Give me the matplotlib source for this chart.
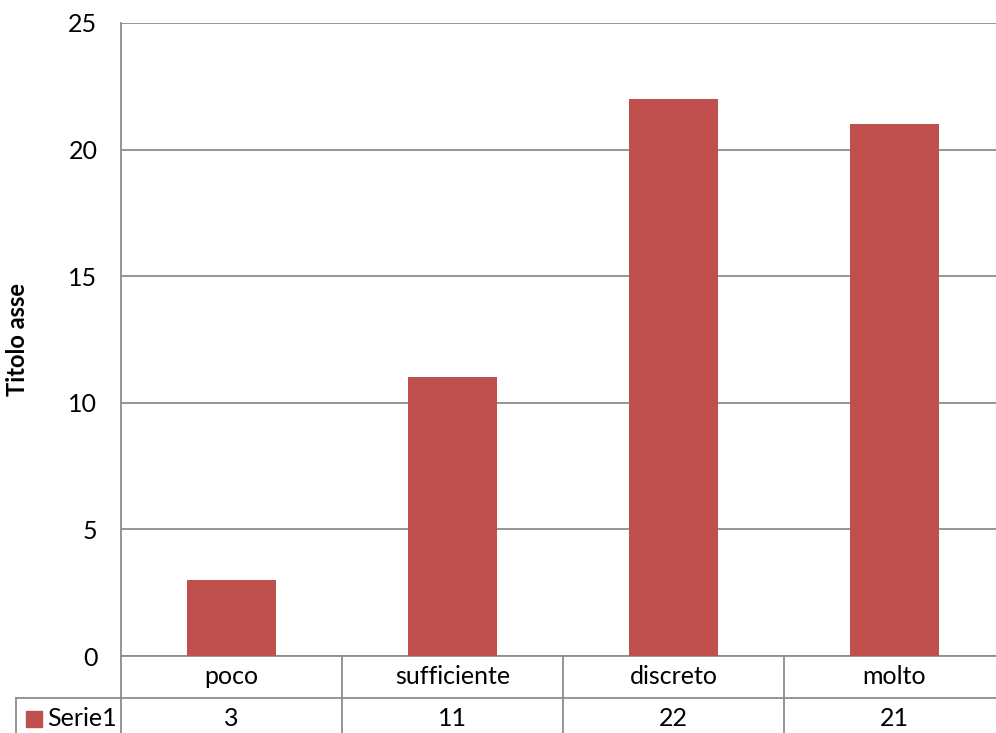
import matplotlib.pyplot as plt
from matplotlib.transforms import blended_transform_factory
from matplotlib.patches import Rectangle

categories = ["poco", "sufficiente", "discreto", "molto"]
values = [3, 11, 22, 21]
series_name = "Serie1"
y_ticks = [0, 5, 10, 15, 20, 25]

BAR_COLOR = "#C0504D"
LINE_COLOR = "#8C8C8C"
FS = 18

plt.rcParams["font.family"] = ["Lato", "DejaVu Sans"]

fig = plt.figure(figsize=(9.96, 7.33), dpi=100)
# plot area runs slightly past the right edge, as in the original
ax = fig.add_axes([121 / 996, 1 - 656 / 733, 884 / 996, 633 / 733])

x = list(range(len(categories)))
ax.bar(x, values, width=0.4, color=BAR_COLOR, zorder=3)

ax.set_xlim(-0.5, len(categories) - 0.5)
ax.set_ylim(0, 25)
ax.set_yticks(y_ticks)
ax.set_xticks([])
ax.tick_params(axis="y", length=0, pad=17, labelsize=FS)
ax.yaxis.grid(True, color=LINE_COLOR, linewidth=1.3, zorder=0)
for side in ["top", "right", "bottom"]:
    ax.spines[side].set_visible(False)
ax.spines["left"].set_color(LINE_COLOR)
ax.spines["left"].set_linewidth(1.3)
ax.text(-103 / 884, 0.5, "Titolo asse", transform=ax.transAxes, rotation=90,
        ha="center", va="center", fontsize=17, fontweight="bold")

# data table below the plot
trans = blended_transform_factory(ax.transData, ax.transAxes)
row_h = 42 / 633
r1_bot = -row_h
r2_bot = -2 * row_h
line_kw = dict(color=LINE_COLOR, linewidth=1.3, clip_on=False, transform=ax.transAxes)

ax.plot([0, 1], [0, 0], **line_kw)
ax.plot([-105 / 884, 1], [r1_bot, r1_bot], **line_kw)
ax.plot([0, 0], [r2_bot, 0], **line_kw)
ax.plot([-105 / 884, -105 / 884], [r2_bot, r1_bot], **line_kw)
for i in range(1, len(categories)):
    ax.plot([i - 0.5, i - 0.5], [r2_bot, 0], color=LINE_COLOR, linewidth=1.3,
            clip_on=False, transform=trans)

for i, (cat, val) in enumerate(zip(categories, values)):
    ax.text(i, -row_h / 2, cat, transform=trans, ha="center", va="center", fontsize=FS)
    ax.text(i, -1.5 * row_h, str(val), transform=trans, ha="center", va="center", fontsize=FS)

ax.add_patch(Rectangle((-95 / 884, -1.5 * row_h - 8 / 633), 16 / 884, 16 / 633,
                       transform=ax.transAxes, color=BAR_COLOR, clip_on=False))
ax.text(-74 / 884, -1.5 * row_h, series_name, transform=ax.transAxes,
        ha="left", va="center", fontsize=FS)

fig.savefig("out.png", dpi=100)
